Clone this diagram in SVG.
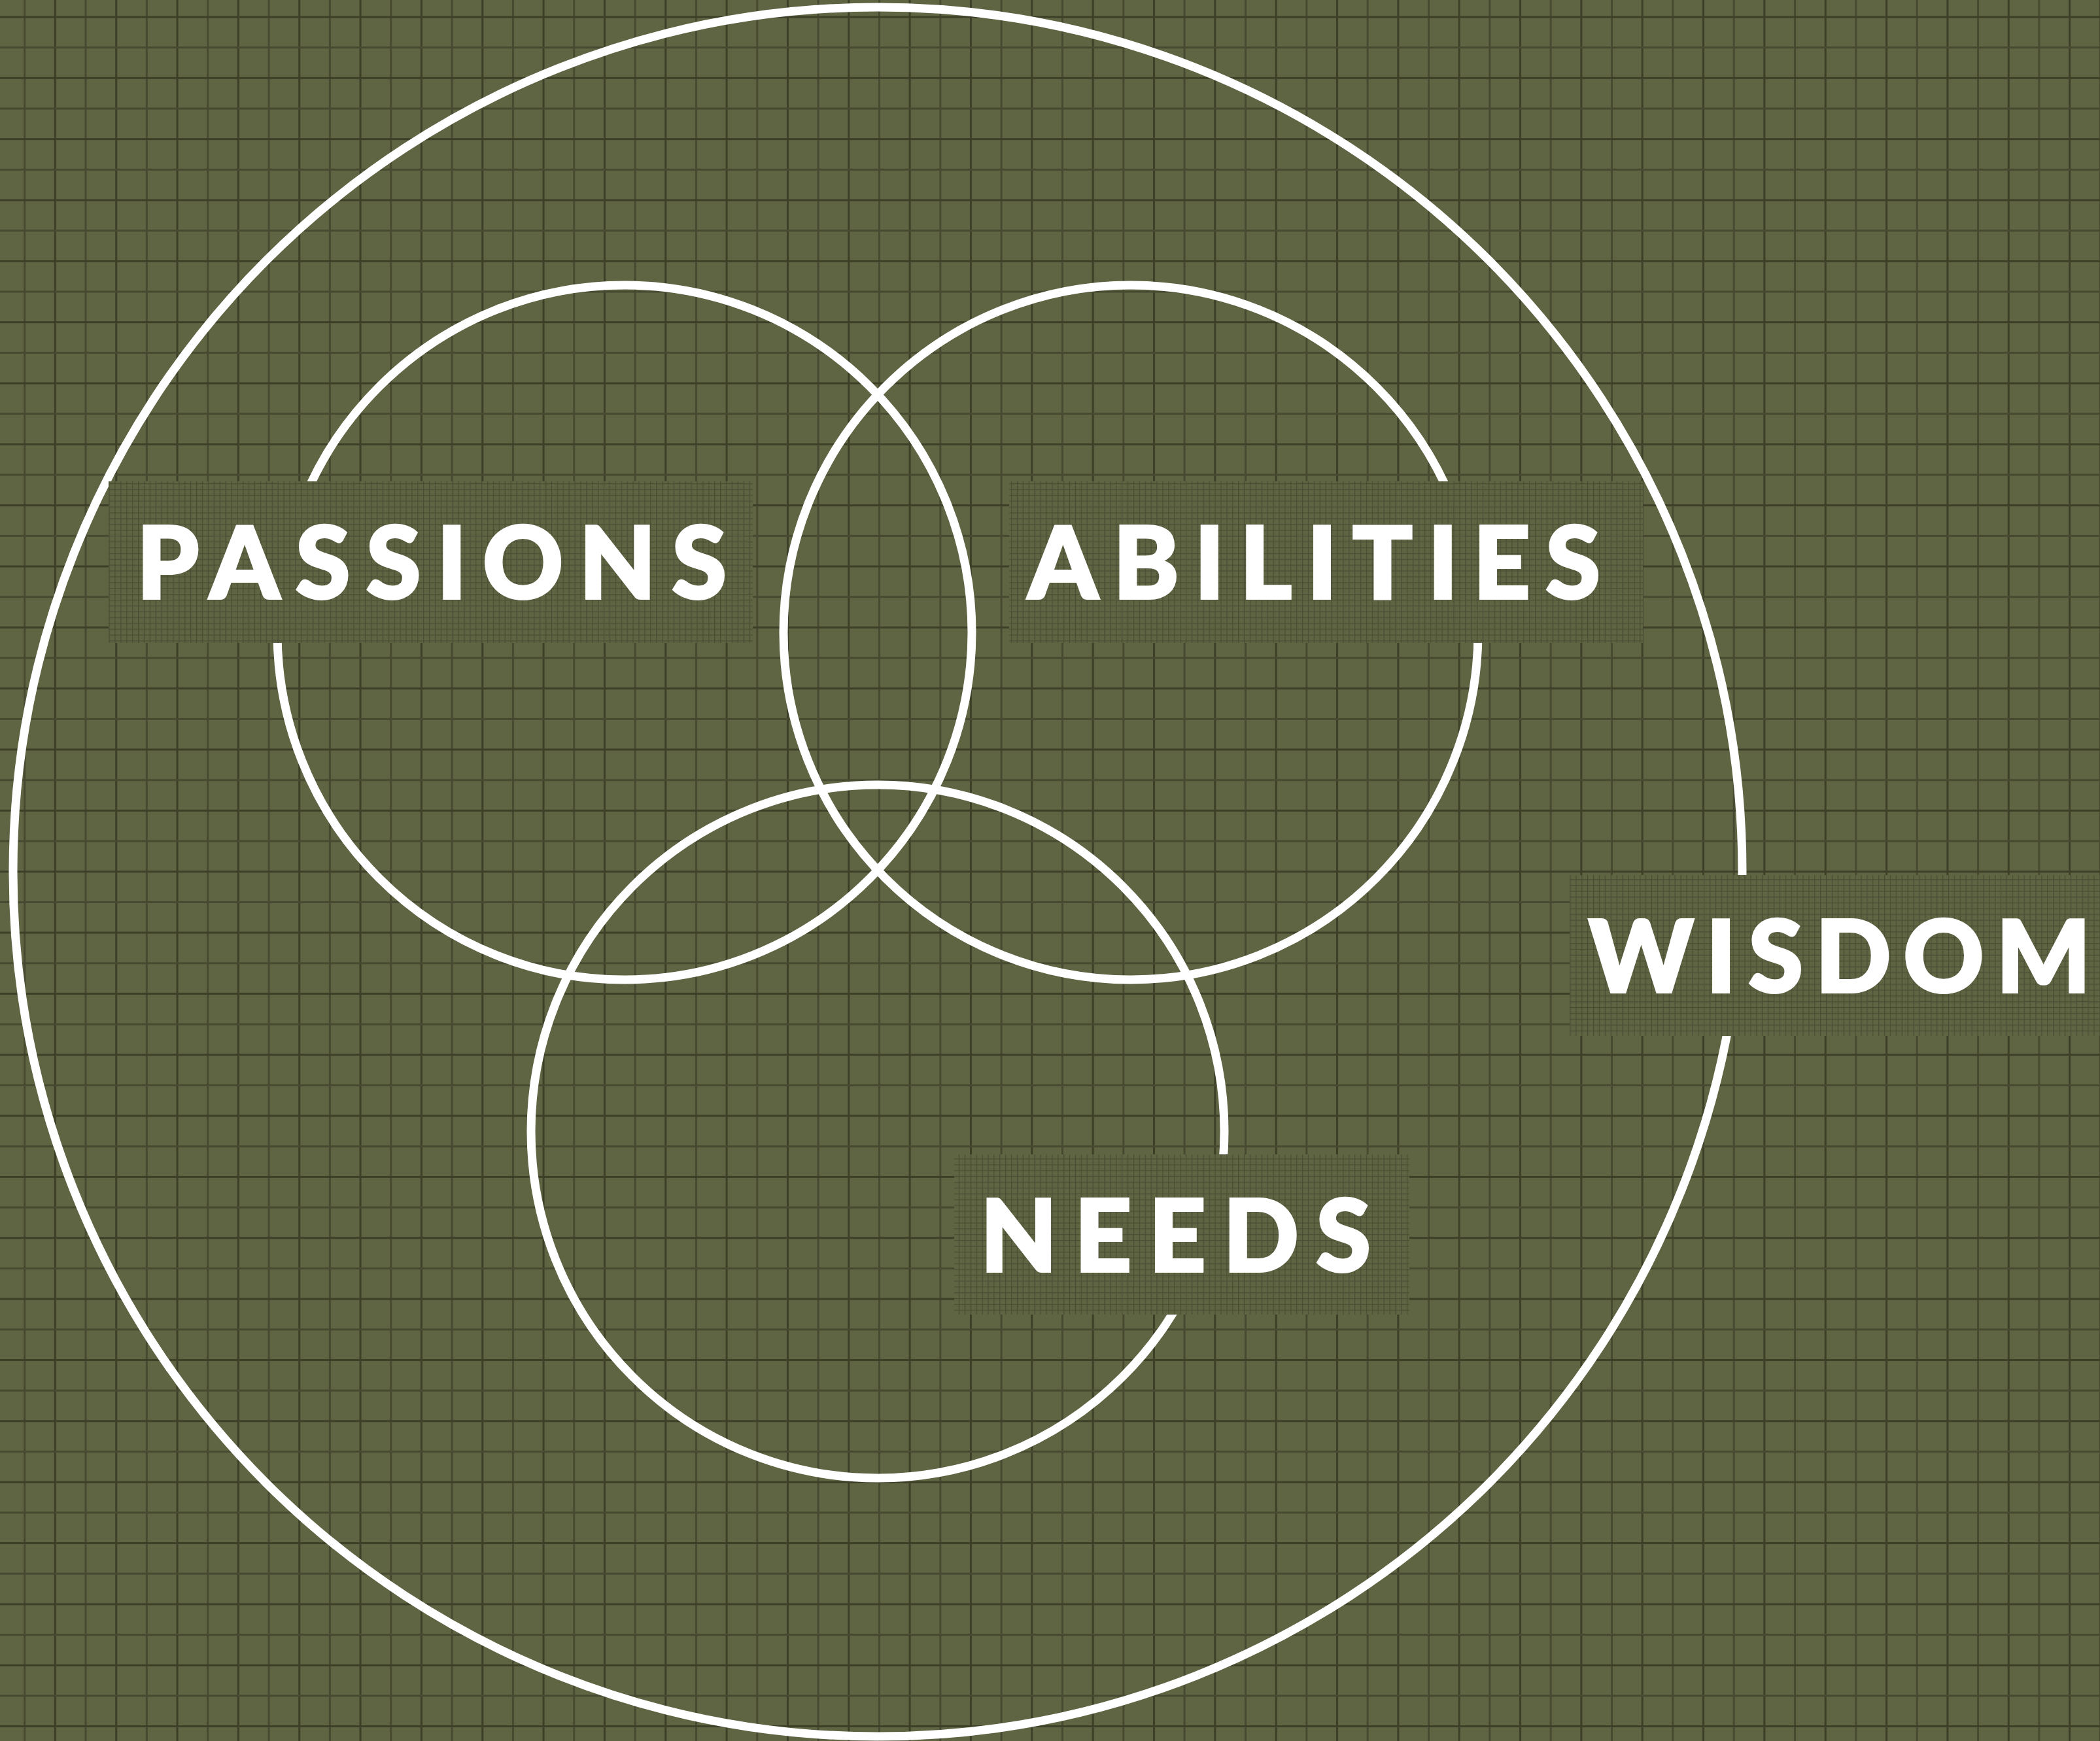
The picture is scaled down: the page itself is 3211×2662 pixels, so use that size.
<svg xmlns="http://www.w3.org/2000/svg" width="3211" height="2662" viewBox="0 0 3211 2662">
  <defs>
    <pattern id="coarse" patternUnits="userSpaceOnUse" x="36.2" y="24.5" width="93.34" height="93.34">
      <rect width="93.34" height="93.34" fill="#5f6443"/>
      <rect x="0" y="0" width="3" height="93.34" fill="#474a30"/>
      <rect x="46.67" y="0" width="3" height="93.34" fill="#3d3f27"/>
      <rect x="0" y="0" width="93.34" height="3" fill="#3d3f27"/>
      <rect x="0" y="46.67" width="93.34" height="3" fill="#474a30"/>
    </pattern>
    <pattern id="fine" patternUnits="userSpaceOnUse" x="1543" y="736" width="8.9" height="8.9">
      <rect width="8.9" height="8.9" fill="#5f6443"/>
      <rect x="3" y="0" width="1.2" height="8.9" fill="#4a4d33"/>
      <rect x="0" y="3" width="8.9" height="1.2" fill="#4a4d33"/>
    </pattern>
    <style>
      .ring { fill: none; stroke: #ffffff; stroke-width: 13; }
      .box { fill: url(#fine); }
      .label { fill: #ffffff; stroke: #ffffff; stroke-width: 4; stroke-linejoin: miter; font-family: "Lato", "Liberation Sans", sans-serif; font-weight: 900; font-size: 152px; }
    </style>
  </defs>
  <rect id="background" x="0" y="0" width="3211" height="2662" fill="url(#coarse)"/>
  <g id="connectors">
  </g>
  <g id="wisdom-ring">
    <circle class="ring" cx="1342" cy="1333" r="1322"/>
  </g>
  <g id="passions-ring">
    <circle class="ring" cx="955" cy="967" r="531"/>
  </g>
  <g id="abilities-ring">
    <circle class="ring" cx="1729" cy="967" r="531"/>
  </g>
  <g id="needs-ring">
    <circle class="ring" cx="1342" cy="1730" r="530"/>
  </g>
  <g id="passions">
    <rect class="box" x="166" y="736" width="985" height="247"/>
    <text class="label" x="209" y="915" textLength="902" lengthAdjust="spacing">PASSIONS</text>
  </g>
  <g id="abilities">
    <rect class="box" x="1543" y="736" width="969" height="247"/>
    <text class="label" x="1572" y="915" textLength="875" lengthAdjust="spacing">ABILITIES</text>
  </g>
  <g id="needs">
    <rect class="box" x="1459" y="1765" width="696" height="245"/>
    <text class="label" x="1499" y="1944" textLength="597" lengthAdjust="spacing">NEEDS</text>
  </g>
  <g id="wisdom">
    <rect class="box" x="2400" y="1338" width="811" height="246"/>
    <text class="label" x="2429" y="1517" textLength="768" lengthAdjust="spacing">WISDOM</text>
  </g>
</svg>
